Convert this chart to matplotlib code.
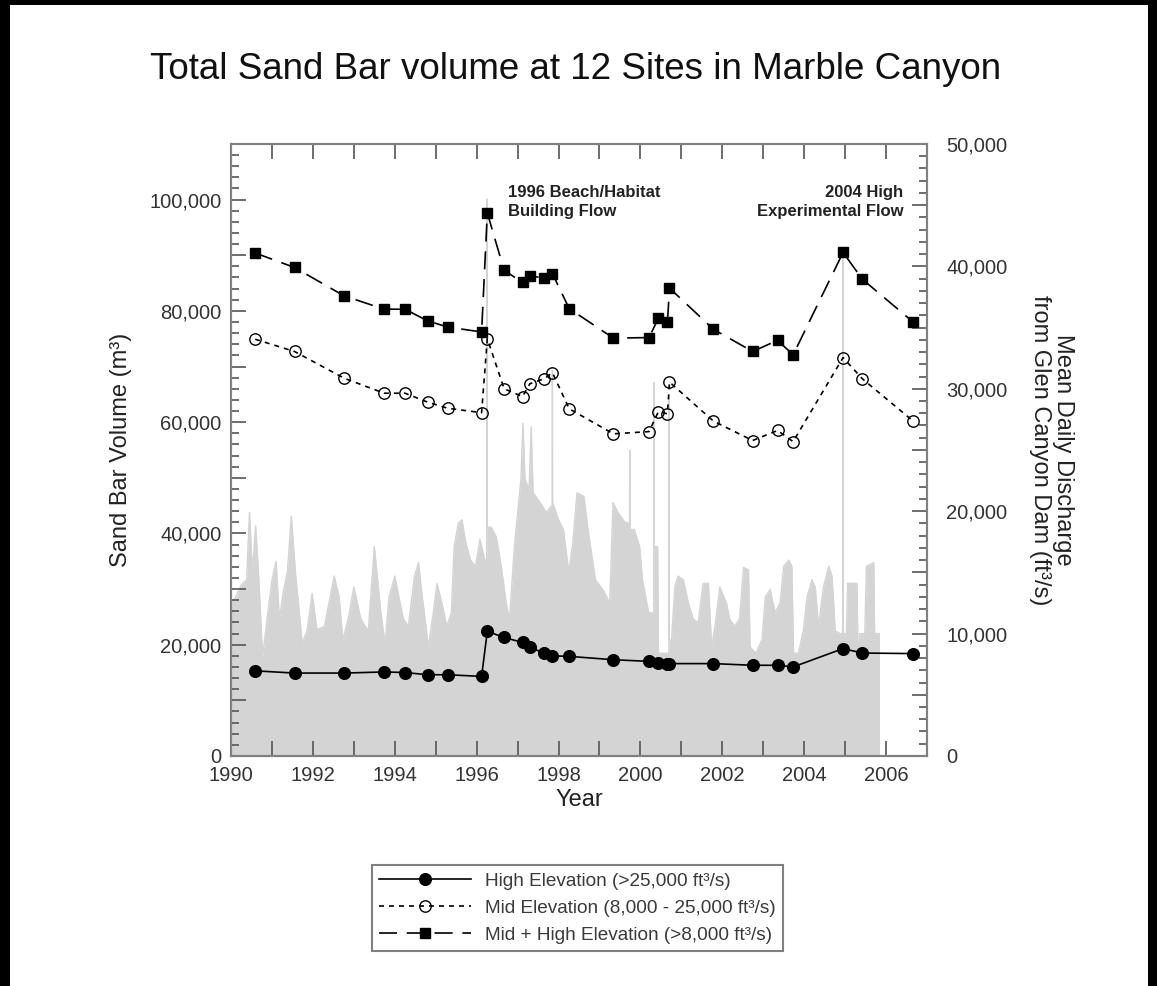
import matplotlib
matplotlib.use("Agg")
import matplotlib.pyplot as plt
from matplotlib.ticker import MultipleLocator, FuncFormatter
from matplotlib.patches import Rectangle

plt.rcParams['font.family'] = ['Liberation Sans', 'DejaVu Sans']
plt.rcParams['lines.scale_dashes'] = False

# survey dates (decimal year) and sand bar volumes (m3)
survey_year = [1990.59, 1991.55, 1992.76, 1993.74, 1994.25, 1994.80, 1995.29,
               1996.12, 1996.26, 1996.67, 1997.12, 1997.30, 1997.65, 1997.85,
               1998.26, 1999.34, 2000.21, 2000.44, 2000.66, 2000.71, 2001.78,
               2002.74, 2003.35, 2003.73, 2004.95, 2005.42, 2006.66]
high_elev = [15300, 14900, 14900, 15100, 15000, 14600, 14600,
             14300, 22400, 21300, 20400, 19500, 18500, 18000,
             17900, 17300, 17000, 16700, 16500, 16600, 16600,
             16300, 16300, 16000, 19300, 18500, 18400]
mid_elev = [74900, 72700, 67900, 65200, 65200, 63600, 62500,
            61700, 75000, 66000, 64600, 66900, 67800, 68900,
            62400, 57900, 58300, 61900, 61500, 67200, 60200,
            56700, 58500, 56500, 71600, 67800, 60200]
mid_high = [90400, 87800, 82700, 80300, 80300, 78200, 77100,
            76200, 97600, 87300, 85100, 86300, 85900, 86700,
            80400, 75100, 75200, 78700, 78000, 84100, 76700,
            72700, 74700, 72100, 90500, 85700, 78000]

# mean daily discharge envelope (thousand ft3/s)
flow_year = [1990.00, 1990.12, 1990.25, 1990.38, 1990.45, 1990.52, 1990.60, 1990.68,
             1990.77, 1990.88, 1991.00, 1991.10, 1991.18, 1991.27, 1991.38, 1991.47,
             1991.58, 1991.74, 1991.86, 1991.98, 1992.10, 1992.28, 1992.42, 1992.52,
             1992.64, 1992.73, 1992.86, 1993.00, 1993.17, 1993.35, 1993.50, 1993.66,
             1993.76, 1993.86, 1994.00, 1994.10, 1994.21, 1994.33, 1994.48, 1994.58,
             1994.66, 1994.74, 1994.82, 1994.94, 1995.03, 1995.15, 1995.27, 1995.38,
             1995.45, 1995.55, 1995.64, 1995.73, 1995.85, 1995.97, 1996.08, 1996.20,
             1996.245, 1996.25, 1996.255, 1996.35, 1996.48, 1996.60, 1996.72, 1996.80,
             1996.92, 1997.08, 1997.13, 1997.18, 1997.28, 1997.33, 1997.38, 1997.55,
             1997.70, 1997.845, 1997.85, 1997.855, 1998.00, 1998.12, 1998.25, 1998.35,
             1998.45, 1998.62, 1998.72, 1998.90, 1999.10, 1999.25, 1999.33, 1999.45,
             1999.62, 1999.735, 1999.74, 1999.745, 1999.85, 1999.98, 2000.05, 2000.20,
             2000.325, 2000.33, 2000.335, 2000.42, 2000.44, 2000.68, 2000.695, 2000.70,
             2000.705, 2000.76, 2000.84, 2000.92, 2001.05, 2001.17, 2001.29, 2001.41,
             2001.53, 2001.66, 2001.74, 2001.82, 2001.94, 2002.10, 2002.18, 2002.30,
             2002.42, 2002.52, 2002.64, 2002.68, 2002.82, 2002.97, 2003.05, 2003.17,
             2003.29, 2003.41, 2003.50, 2003.62, 2003.70, 2003.74, 2003.86, 2003.98,
             2004.07, 2004.19, 2004.27, 2004.35, 2004.47, 2004.60, 2004.68, 2004.76,
             2004.88, 2004.945, 2004.95, 2004.955, 2005.03, 2005.06, 2005.29, 2005.32,
             2005.36, 2005.48, 2005.52, 2005.70, 2005.72, 2005.84]
flow_kcfs = [12.5, 13.0, 14.0, 14.4, 19.9, 15.0, 18.8, 14.4,
             8.1, 11.2, 14.4, 15.9, 11.2, 13.3, 15.2, 19.6,
             14.7, 9.2, 10.3, 13.3, 10.3, 10.6, 13.0, 14.7,
             13.0, 9.5, 11.2, 13.8, 11.2, 10.2, 17.1, 11.7,
             9.2, 13.0, 14.7, 13.0, 11.2, 10.6, 14.7, 15.8,
             13.3, 11.2, 8.9, 11.7, 14.1, 12.5, 10.6, 11.7,
             17.1, 19.0, 19.3, 17.5, 16.0, 15.5, 17.7, 16.0,
             16.0, 45.5, 18.7, 18.7, 17.9, 15.5, 12.5, 11.1,
             17.1, 22.6, 27.2, 22.6, 21.8, 26.9, 21.5, 20.7,
             19.9, 20.5, 31.5, 20.7, 19.3, 18.5, 15.0, 17.5,
             21.5, 21.2, 18.5, 14.4, 13.5, 12.5, 20.7, 19.9,
             19.1, 19.0, 25.0, 18.5, 18.5, 17.1, 14.4, 11.7,
             11.7, 30.5, 17.1, 17.1, 8.4, 8.4, 8.4, 29.5,
             9.5, 9.5, 13.8, 14.7, 14.4, 12.5, 11.2, 10.9,
             14.1, 14.1, 8.9, 10.6, 13.8, 12.5, 11.2, 10.6,
             11.2, 15.4, 15.2, 8.9, 8.4, 9.5, 13.0, 13.6,
             11.7, 12.5, 15.5, 16.0, 15.5, 8.4, 8.4, 10.3,
             13.0, 14.4, 13.8, 10.6, 13.8, 15.5, 14.7, 10.2,
             10.0, 10.0, 41.2, 10.0, 10.0, 14.1, 14.1, 7.3,
             10.0, 10.0, 15.5, 15.8, 10.0, 10.0]
flow_cfs = [v * 1000 for v in flow_kcfs]

year_labels = [str(y) for y in range(1990, 2007, 2)]

fig = plt.figure(figsize=(11.57, 9.86), dpi=100)
ax = fig.add_axes([0.1997, 0.2333, 0.6015, 0.6207])
ax2 = ax.twinx()

gray = '#d4d4d4'
ax2.fill_between(flow_year, flow_cfs, 0, color=gray, lw=0)
ax2.plot(flow_year, flow_cfs, color=gray, lw=1.0)

l1, = ax.plot(survey_year, high_elev, color='black', lw=1.2, marker='o', ms=8.4,
              mfc='black', mec='black')
l2, = ax.plot(survey_year, mid_elev, color='black', lw=1.2, ls=(0, (3.6, 3.6)),
              marker='o', ms=8.2, mfc='none', mec='black', mew=1.0)
l3, = ax.plot(survey_year, mid_high, color='black', lw=1.2, ls=(0, (13, 7)),
              marker='s', ms=7.7, mfc='black', mec='black')

ax.set_zorder(ax2.get_zorder() + 1)
ax.patch.set_visible(False)

ax.set_xlim(1990, 2007)
ax.set_ylim(0, 110000)
ax2.set_ylim(0, 50000)

spine_c = '#808080'
tick_c = '#555555'
lab_c = '#333333'
for a in (ax, ax2):
    for s in a.spines.values():
        s.set_color(spine_c)
        s.set_linewidth(1.5)

ax.xaxis.set_major_locator(MultipleLocator(1))
ax.xaxis.set_major_formatter(FuncFormatter(
    lambda v, p: year_labels[int(round(v - 1990)) // 2] if int(round(v)) % 2 == 0 and 1990 <= v <= 2006 else ''))
ax.yaxis.set_major_locator(MultipleLocator(10000))
ax.yaxis.set_minor_locator(MultipleLocator(2000))
ax.yaxis.set_major_formatter(FuncFormatter(
    lambda v, p: f'{int(v):,}' if int(round(v)) % 20000 == 0 else ''))
ax2.yaxis.set_major_locator(MultipleLocator(5000))
ax2.yaxis.set_minor_locator(MultipleLocator(1000))
ax2.yaxis.set_major_formatter(FuncFormatter(
    lambda v, p: f'{int(v):,}' if int(round(v)) % 10000 == 0 else ''))

ax.tick_params(axis='x', which='major', direction='in', length=11, width=1.2,
               color=tick_c, top=True, labelsize=14.5, labelcolor=lab_c, pad=7)
ax.tick_params(axis='y', which='major', direction='in', length=11, width=1.2,
               color=tick_c, labelsize=14.5, labelcolor=lab_c, pad=7)
ax.tick_params(axis='y', which='minor', direction='in', length=5.5, width=1.2,
               color=tick_c)
ax2.tick_params(axis='y', which='major', direction='in', length=11, width=1.2,
                color=tick_c, labelsize=14.5, labelcolor=lab_c, pad=14)
ax2.tick_params(axis='y', which='minor', direction='in', length=5.5, width=1.2,
                color=tick_c)

ax.set_xlabel('Year', fontsize=17, color='#222222', labelpad=3)
ax.set_ylabel('Sand Bar Volume (m³)', fontsize=17, color='#222222', labelpad=12)
ax2.set_ylabel('Mean Daily Discharge\nfrom Glen Canyon Dam (ft³/s)', fontsize=17,
               color='#222222', rotation=270, labelpad=48, linespacing=1.1)

ax.text(1996.77, 102600, '1996 Beach/Habitat\nBuilding Flow', fontsize=12,
        fontweight='bold', color='#222222', ha='left', va='top', linespacing=1.3)
ax.text(2006.42, 102600, '2004 High\nExperimental Flow', fontsize=12,
        fontweight='bold', color='#222222', ha='right', va='top',
        multialignment='right', linespacing=1.3)

fig.text(0.4975, 0.930, 'Total Sand Bar volume at 12 Sites in Marble Canyon',
         fontsize=26.5, ha='center', va='center', color='#111111')

leg = fig.legend([l1, l2, l3],
                 ['High Elevation (>25,000 ft³/s)',
                  'Mid Elevation (8,000 - 25,000 ft³/s)',
                  'Mid + High Elevation (>8,000 ft³/s)'],
                 loc='upper left', bbox_to_anchor=(0.3213, 0.1227), borderaxespad=0,
                 fontsize=13.7, handlelength=4.8, handletextpad=0.75, numpoints=1,
                 labelspacing=0.5, borderpad=0.4, fancybox=False, framealpha=1,
                 edgecolor=spine_c, labelcolor='#3a3a3a')
leg.get_frame().set_linewidth(1.5)

# black frame around the picture
for r in [(0, 0, 10 / 1157, 1), (1 - 9 / 1157, 0, 9 / 1157, 1), (0, 1 - 5 / 986, 1, 5 / 986)]:
    fig.patches.append(Rectangle(r[:2], r[2], r[3], transform=fig.transFigure,
                                 color='black', lw=0))

fig.savefig('out.png', dpi=100)
